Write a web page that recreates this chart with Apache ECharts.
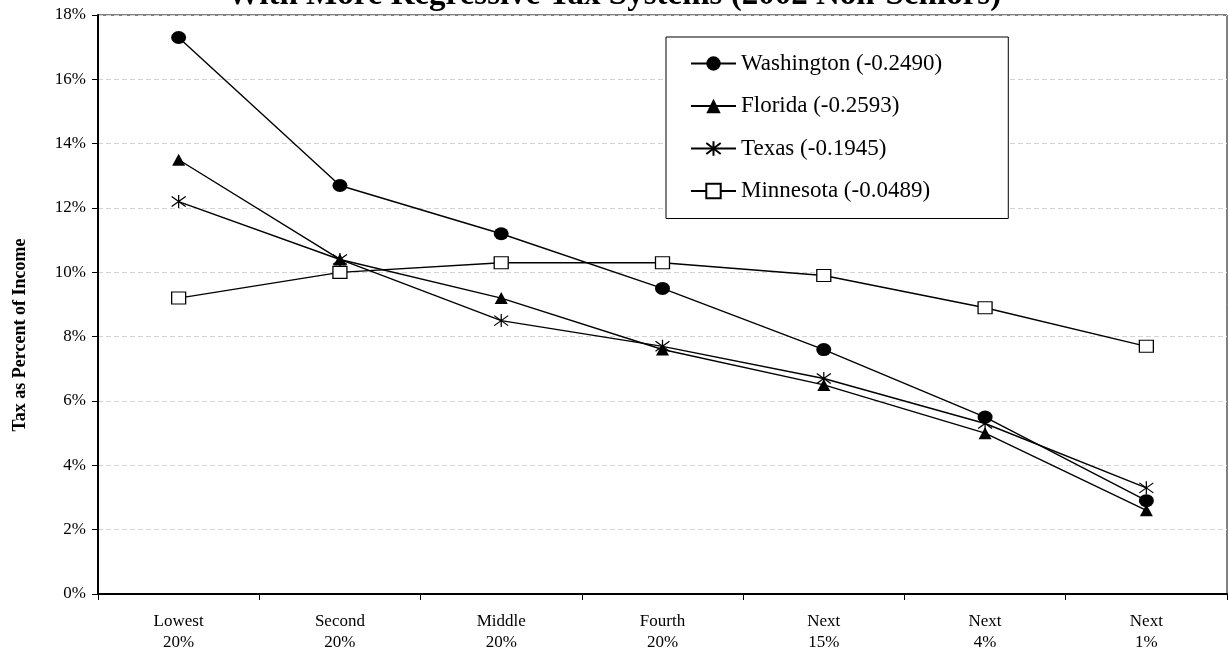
<!DOCTYPE html>
<html>
<head>
<meta charset="utf-8">
<script src="https://cdn.jsdelivr.net/npm/echarts@6/dist/echarts.min.js"></script>
<style>
html,body{margin:0;padding:0;background:#fff;}
#chart{width:1228px;height:654px;}
</style>
</head>
<body>
<div id="chart"></div>
<script>
const titleText = 'With More Regressive Tax Systems (2002 Non-Seniors)';
const yAxisTitle = 'Tax as Percent of Income';
const categories = ['Lowest\n20%', 'Second\n20%', 'Middle\n20%', 'Fourth\n20%', 'Next\n15%', 'Next\n4%', 'Next\n1%'];
const seriesNames = ['Washington (-0.2490)', 'Florida (-0.2593)', 'Texas (-0.1945)', 'Minnesota (-0.0489)'];
const washington = [17.3, 12.7, 11.2, 9.5, 7.6, 5.5, 2.9];
const florida = [13.5, 10.4, 9.2, 7.6, 6.5, 5.0, 2.6];
const texas = [12.2, 10.4, 8.5, 7.7, 6.7, 5.3, 3.3];
const minnesota = [9.2, 10.0, 10.3, 10.3, 9.9, 8.9, 7.7];

const FONT = '"Liberation Serif", "Times New Roman", serif';
const asterisk = 'path://M0,0L10,10M10,0L0,10M5,-1.5L5,11.5';

const chart = echarts.init(document.getElementById('chart'), null, {renderer: 'canvas'});

function lineSeries(name, data, symbol, size, itemStyle) {
  return {
    name: name,
    type: 'line',
    data: data,
    symbol: symbol,
    symbolSize: size,
    showAllSymbol: true,
    lineStyle: {color: '#000', width: 1.4},
    itemStyle: itemStyle,
    emphasis: {disabled: true},
    animation: false
  };
}

chart.setOption({
  backgroundColor: '#fff',
  animation: false,
  title: {
    text: titleText,
    left: 'center',
    top: -21,
    padding: 0,
    textStyle: {fontFamily: FONT, fontWeight: 'bold', fontSize: 33, color: '#000'}
  },
  grid: {
    left: 98, right: 1, top: 15, bottom: 60,
    show: true, borderColor: '#000', borderWidth: 1, backgroundColor: 'transparent'
  },
  legend: {
    orient: 'vertical',
    left: 666, top: 37,
    padding: [15, 66, 16, 24],
    itemWidth: 45, itemHeight: 18, itemGap: 19.5, itemTextGap: 5,
    borderColor: '#000', borderWidth: 1, backgroundColor: '#fff',
    textStyle: {fontFamily: FONT, fontSize: 23, color: '#000', lineHeight: 23},
    data: seriesNames
  },
  xAxis: {
    type: 'category',
    data: categories,
    boundaryGap: true,
    axisLine: {show: true, lineStyle: {color: '#000', width: 2}},
    axisTick: {show: true, interval: 0, length: 6, lineStyle: {color: '#000', width: 1}},
    axisLabel: {interval: 0, margin: 17, fontFamily: FONT, fontSize: 17, color: '#000', lineHeight: 21},
    splitLine: {show: false}
  },
  yAxis: {
    type: 'value',
    min: 0, max: 18, interval: 2,
    axisLine: {show: true, lineStyle: {color: '#000', width: 2}},
    axisTick: {show: true, length: 6, lineStyle: {color: '#000', width: 1}},
    axisLabel: {margin: 12, fontFamily: FONT, fontSize: 17, color: '#000', formatter: '{value}%'},
    splitLine: {show: true, lineStyle: {color: '#d4d4d4', type: [5, 3], width: 1}}
  },
  graphic: [{
    type: 'text',
    x: 20, y: 335,
    rotation: Math.PI / 2,
    style: {
      text: yAxisTitle,
      fontFamily: FONT, fontWeight: 'bold', fontSize: 18, fill: '#000',
      align: 'center', verticalAlign: 'middle'
    }
  }],
  series: [
    lineSeries(seriesNames[0], washington, 'circle', [15, 13], {color: '#000'}),
    lineSeries(seriesNames[1], florida, 'triangle', [13, 12], {color: '#000'}),
    lineSeries(seriesNames[2], texas, asterisk, [14, 13], {color: 'rgba(0,0,0,0)', borderColor: '#000', borderWidth: 1.2}),
    lineSeries(seriesNames[3], minnesota, 'rect', [14, 12], {color: '#fff', borderColor: '#000', borderWidth: 1.2})
  ]
});
</script>
</body>
</html>
